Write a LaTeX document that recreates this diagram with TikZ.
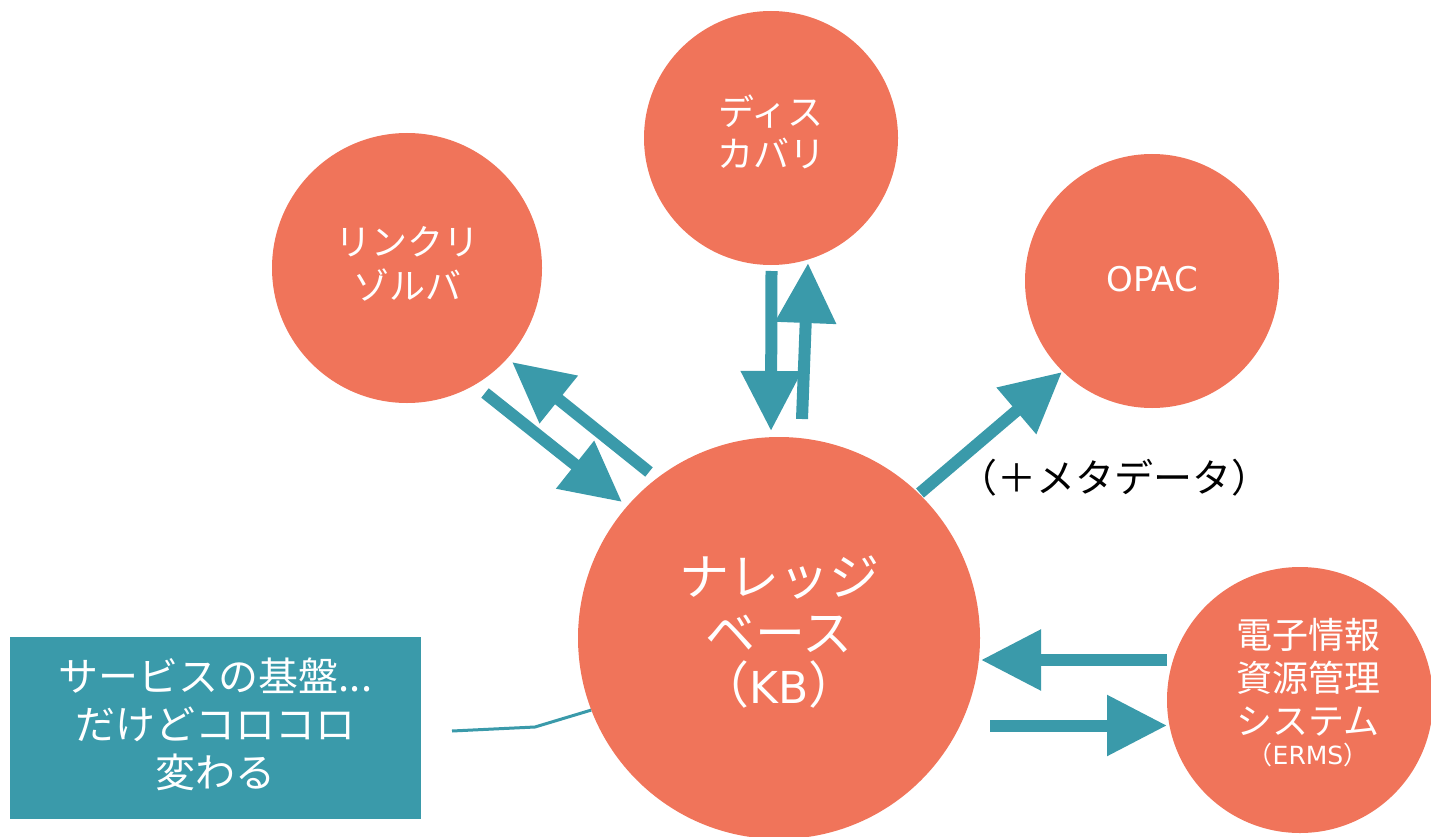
\documentclass[tikz,border=0pt]{standalone}
\usepackage{fontspec}
\setmainfont{Noto Sans CJK JP}
\newfontfamily\lat{DejaVu Sans}
\usetikzlibrary{arrows.meta}
\definecolor{coral}{RGB}{240,116,90}
\definecolor{tealc}{RGB}{58,154,170}
\begin{document}
\begin{tikzpicture}[x=1pt,y=-1pt,
  bubble/.style={circle,fill=coral,inner sep=0pt},
  btext/.style={inner sep=0pt,text=white,align=center},
  flow/.style={draw=tealc,line width=12pt,-{Triangle[length=60pt,width=58pt]}},
  callout/.style={draw=tealc,line width=3pt},
  notebox/.style={fill=tealc,inner sep=0pt}
]
\useasboundingbox (0,0) rectangle (1431,837);

% circles
\node[bubble,minimum size=402pt] (kb) at (779,638) {};
\node[bubble,minimum size=270pt] (lr) at (407,268) {};
\node[bubble,minimum size=254pt] (disc) at (771,138) {};
\node[bubble,minimum size=254pt] (opac) at (1152,281) {};
\node[bubble,minimum size=266pt] (erms) at (1300,700) {};

% circle texts
\node[btext,font=\fontsize{50}{56}\selectfont] (kbt) at ([yshift=6pt]kb.center)
  {ナレッジ\\ベース\\[-4pt]（{\lat\fontsize{44}{50}\selectfont KB}）};
\node[btext,font=\fontsize{36}{44}\selectfont] (lrt) at ([yshift=4pt]lr.center)
  {リンクリ\\ゾルバ};
\node[btext,font=\fontsize{36}{42}\selectfont] (disct) at ([yshift=6.5pt]disc.center)
  {ディス\\カバリ};
\node[btext,font=\lat\fontsize{34}{42}\selectfont] (opact) at ([yshift=2pt]opac.center)
  {OPAC};
\node[btext,font=\fontsize{36}{46}\selectfont] (ermst) at ([xshift=8pt,yshift=7pt]erms.center)
  {電子情報\\[-3pt]資源管理\\[-3pt]システム\\[-16pt]{\fontsize{25}{30}\selectfont（{\lat ERMS}）}};

% note box
\node[notebox,minimum width=411pt,minimum height=182pt] (note) at (215.5,728) {};
\node[btext,font=\fontsize{40}{48}\selectfont] (notet) at ([yshift=3.5pt]note.center)
  {サービスの基盤...\\だけどコロコロ\\変わる};

% label
\node[font=\fontsize{39}{45}\selectfont,inner sep=0pt] (meta) at (1114,478) {（＋メタデータ）};

% arrow end coordinates
\coordinate (a1s) at (485,393);  \coordinate (a1e) at (622,502);
\coordinate (a2s) at (649,472);  \coordinate (a2e) at (512,362);
\coordinate (a3s) at (771.5,271); \coordinate (a3e) at (771,431);
\coordinate (a4s) at (802,419);  \coordinate (a4e) at (808,263);
\coordinate (a5s) at (920,493);  \coordinate (a5e) at (1062,372);
\coordinate (a6s) at (1167,660); \coordinate (a6e) at (981,660);
\coordinate (a7s) at (990,725.5); \coordinate (a7e) at (1167,725.5);

\draw[flow] (a1s) -- (a1e);
\draw[flow] (a2s) -- (a2e);
\draw[flow] (a3s) -- (a3e);
\draw[flow] (a4s) -- (a4e);
\draw[flow] (a5s) -- (a5e);
\draw[flow] (a6s) -- (a6e);
\draw[flow] (a7s) -- (a7e);

% callout line
\coordinate (c1) at (452,731);
\coordinate (c2) at (535,727);
\draw[callout] (c1) -- (c2) -- (kb.201.6);
\end{tikzpicture}
\end{document}
